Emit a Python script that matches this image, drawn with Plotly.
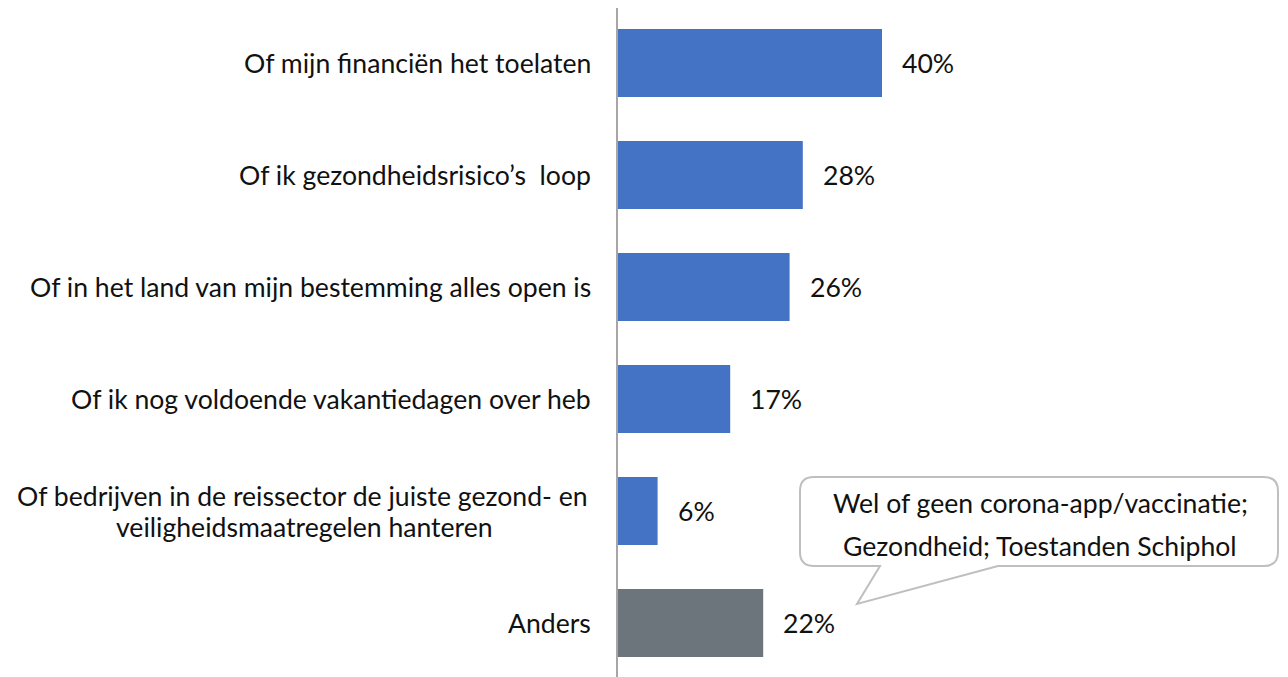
import plotly.graph_objects as go

# survey answers, top to bottom
categories = [
    "Of mijn financiën het toelaten",
    "Of ik gezondheidsrisico’s  loop",
    "Of in het land van mijn bestemming alles open is",
    "Of ik nog voldoende vakantiedagen over heb",
    "Of bedrijven in de reissector de juiste gezond- en<br>veiligheidsmaatregelen hanteren",
    "Anders",
]
values = [40, 28, 26, 17, 6, 22]
value_labels = ["40%", "28%", "26%", "17%", "6%", "22%"]
callout_lines = ["Wel of geen corona-app/vaccinatie;", "Gezondheid; Toestanden Schiphol"]

BLUE = "#4472C4"
GREY = "#6C757B"
colors = [BLUE] * 5 + [GREY]
FONT = "Lato, 'Open Sans', sans-serif"
TXT = dict(family=FONT, size=26.6, color="#111111")

# the page body adds an 8px margin, so the figure is laid out 8px smaller
OFF = 8
W, H = 1280, 669
ML, MR, MT, MB = 618 - OFF, 0, 0, 0
PX_PER_PCT = 6.6
ROW_PX = 112
FIRST_ROW_Y = 63 - OFF
plot_w = W - ML - MR
plot_h = H - MT - MB


def px(x):
    return (x - OFF - ML) / plot_w


def py(y):
    return (H - MB - (y - OFF)) / plot_h


fig = go.Figure()
fig.add_trace(go.Bar(
    x=values, y=categories, orientation="h",
    marker=dict(color=colors, line=dict(width=0)),
    width=68 / ROW_PX, hoverinfo="skip",
))

# value labels to the right of bars
for c, v, t in zip(categories, values, value_labels):
    fig.add_annotation(x=v, y=c, text=t, showarrow=False, xanchor="left",
                       yanchor="middle", xshift=18, font=TXT)

# category labels (annotations so the two-line one can be centred)
for c in categories:
    if "<br>" in c:
        first, second = c.split("<br>")
        fig.add_annotation(x=px(590), xref="paper", y=c, text=first, showarrow=False,
                           xanchor="right", yanchor="middle", yshift=15, font=TXT)
        fig.add_annotation(x=px(304), xref="paper", y=c, text=second, showarrow=False,
                           xanchor="center", yanchor="middle", yshift=-16, font=TXT)
    else:
        fig.add_annotation(x=px(593), xref="paper", y=c, text=c, showarrow=False,
                           xanchor="right", yanchor="middle", font=TXT)

# speech-bubble callout
L, R, T, B, r = 800, 1278, 477, 566, 14
pts = [
    ("M", L + r, T), ("L", R - r, T), ("Q", R, T, R, T + r), ("L", R, B - r),
    ("Q", R, B, R - r, B), ("L", 998, B), ("L", 857, 604), ("L", 880, B),
    ("L", L + r, B), ("Q", L, B, L, B - r), ("L", L, T + r), ("Q", L, T, L + r, T),
]
path = ""
for p in pts:
    cmd = p[0]
    coords = p[1:]
    parts = []
    for i in range(0, len(coords), 2):
        parts.append(f"{px(coords[i]):.5f},{py(coords[i + 1]):.5f}")
    path += cmd + " " + " ".join(parts) + " "
path += "Z"
fig.add_shape(type="path", path=path, xref="paper", yref="paper",
              line=dict(color="#BFBFBF", width=2), fillcolor="white")

fig.add_annotation(x=px(1040), y=py(503), xref="paper", yref="paper",
                   text=callout_lines[0], showarrow=False,
                   xanchor="center", yanchor="middle", font=TXT)
fig.add_annotation(x=px(1040), y=py(546), xref="paper", yref="paper",
                   text=callout_lines[1], showarrow=False,
                   xanchor="center", yanchor="middle", font=TXT)

top_cat = -FIRST_ROW_Y / ROW_PX
bottom_cat = (plot_h - FIRST_ROW_Y) / ROW_PX

fig.update_layout(
    width=W, height=H,
    margin=dict(l=ML, r=MR, t=MT, b=MB),
    plot_bgcolor="white", paper_bgcolor="white",
    showlegend=False,
    xaxis=dict(range=[0, plot_w / PX_PER_PCT], visible=False, fixedrange=True),
    yaxis=dict(range=[bottom_cat, top_cat], showticklabels=False, showgrid=False,
               showline=True, linecolor="#A6A6A6", linewidth=1.5,
               ticks="", zeroline=False),
)

fig.write_html("out.html")
